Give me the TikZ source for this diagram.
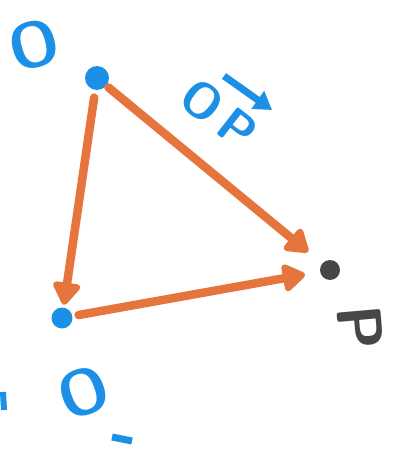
\documentclass[tikz,border=0pt]{standalone}
\usepackage{tikz}
\usetikzlibrary{arrows.meta}
\definecolor{penblue}{HTML}{1C8FE6}
\definecolor{penorange}{HTML}{E5743D}
\definecolor{pengray}{HTML}{474747}

\begin{document}
\begin{tikzpicture}[x=0.02cm, y=-0.02cm,
  font=\sffamily\bfseries,
  dot/.style={circle, fill=#1, inner sep=0pt, minimum size=0.44cm},
  vec/.style={draw=penorange, line width=0.17cm, line cap=round,
    -{Triangle[length=0.5cm, width=0.62cm, round]}},
  letter/.style={text=#1, inner sep=0pt, font=\sffamily\bfseries\fontsize{36}{36}\selectfont}]
  \useasboundingbox (0,0) rectangle (398,449);
  % points
  \node[dot=penblue, minimum size=0.48cm] (O) at (97,78) {};
  \node[dot=penblue, minimum size=0.42cm] (Oprime) at (62,318) {};
  \node[dot=pengray, minimum size=0.4cm] (P) at (330,270) {};
  % vectors
  \draw[vec, shorten <=0.05cm, shorten >=0.36cm] (O) -- (P);
  \draw[vec, shorten <=0.15cm, shorten >=0.05cm] (O) -- (Oprime);
  \draw[vec, shorten <=0.12cm, shorten >=0.3cm] (Oprime) -- (P);
  % labels
  \node[letter=penblue, rotate=15] (lblO) at (34,45) {O};
  \node[letter=penblue, rotate=-38, font=\sffamily\bfseries\fontsize{28}{28}\selectfont] (lblOP) at (219,114) {O\,P};
  \coordinate (arrowA) at (224,76);
  \coordinate (arrowB) at (272,110);
  \draw[penblue, line width=0.14cm, -{Triangle[length=0.35cm, width=0.42cm]}] (arrowA) -- (arrowB);
  \node[letter=pengray, rotate=-85] (lblP) at (360,328) {P};
  \node[letter=penblue, rotate=20] (lblOprime) at (84,392) {O};
  \draw[penblue, line width=0.14cm] (112,437) -- (132,441);
  \draw[penblue, line width=0.12cm] (3,392) -- (4,410);
\end{tikzpicture}
\end{document}
